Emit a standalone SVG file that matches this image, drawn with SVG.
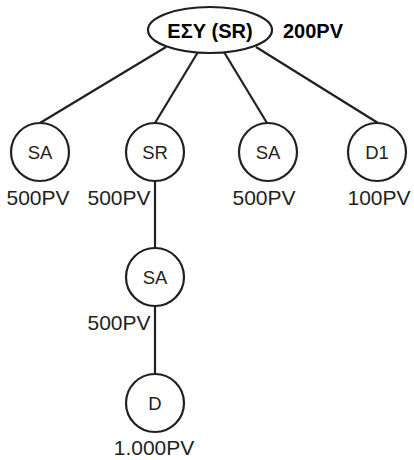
<svg xmlns="http://www.w3.org/2000/svg" width="414" height="460" viewBox="0 0 414 460">
<style>
.n{fill:#fff;stroke:#231f20;stroke-width:2.2}
.c{stroke:#231f20;stroke-width:2.2;fill:none}
.t{font-family:"Liberation Sans",Arial,sans-serif;font-size:18.5px;fill:#231f20;text-anchor:middle}
.l{font-family:"Liberation Sans",Arial,sans-serif;font-size:21px;fill:#231f20;text-anchor:middle}
.b{font-family:"Liberation Sans",Arial,sans-serif;font-size:20px;font-weight:bold;fill:#000}
</style>
<rect width="414" height="460" fill="#fff"/>
<g id="connectors">
<line class="c" x1="40" y1="123" x2="166" y2="47"/>
<line class="c" x1="155" y1="123" x2="198" y2="52"/>
<line class="c" x1="267" y1="123" x2="224" y2="52"/>
<line class="c" x1="378" y1="123" x2="256" y2="47"/>
<line class="c" x1="155" y1="181" x2="155" y2="248"/>
<line class="c" x1="155" y1="306" x2="155" y2="374"/>
</g>
<g id="root">
<ellipse class="n" cx="210" cy="30" rx="62" ry="23"/>
<text class="b" x="210" y="37.5" text-anchor="middle">ΕΣΥ (SR)</text>
<text class="b" x="283" y="37.5">200PV</text>
</g>
<g id="sa1">
<circle class="n" cx="40" cy="152" r="29"/>
<text class="t" x="40" y="159">SA</text>
<text class="l" x="38" y="205">500PV</text>
</g>
<g id="sr">
<circle class="n" cx="155" cy="152" r="29"/>
<text class="t" x="155" y="159">SR</text>
<text class="l" x="119" y="205">500PV</text>
</g>
<g id="sa2">
<circle class="n" cx="268" cy="152" r="29"/>
<text class="t" x="268" y="159">SA</text>
<text class="l" x="264" y="205">500PV</text>
</g>
<g id="d1">
<circle class="n" cx="377" cy="152" r="29"/>
<text class="t" x="377" y="159">D1</text>
<text class="l" x="379" y="205">100PV</text>
</g>
<g id="sa3">
<circle class="n" cx="155" cy="277" r="29"/>
<text class="t" x="155" y="284">SA</text>
<text class="l" x="119" y="330">500PV</text>
</g>
<g id="d">
<circle class="n" cx="155" cy="403" r="29"/>
<text class="t" x="155" y="410">D</text>
<text class="l" x="154" y="455">1.000PV</text>
</g>
</svg>
